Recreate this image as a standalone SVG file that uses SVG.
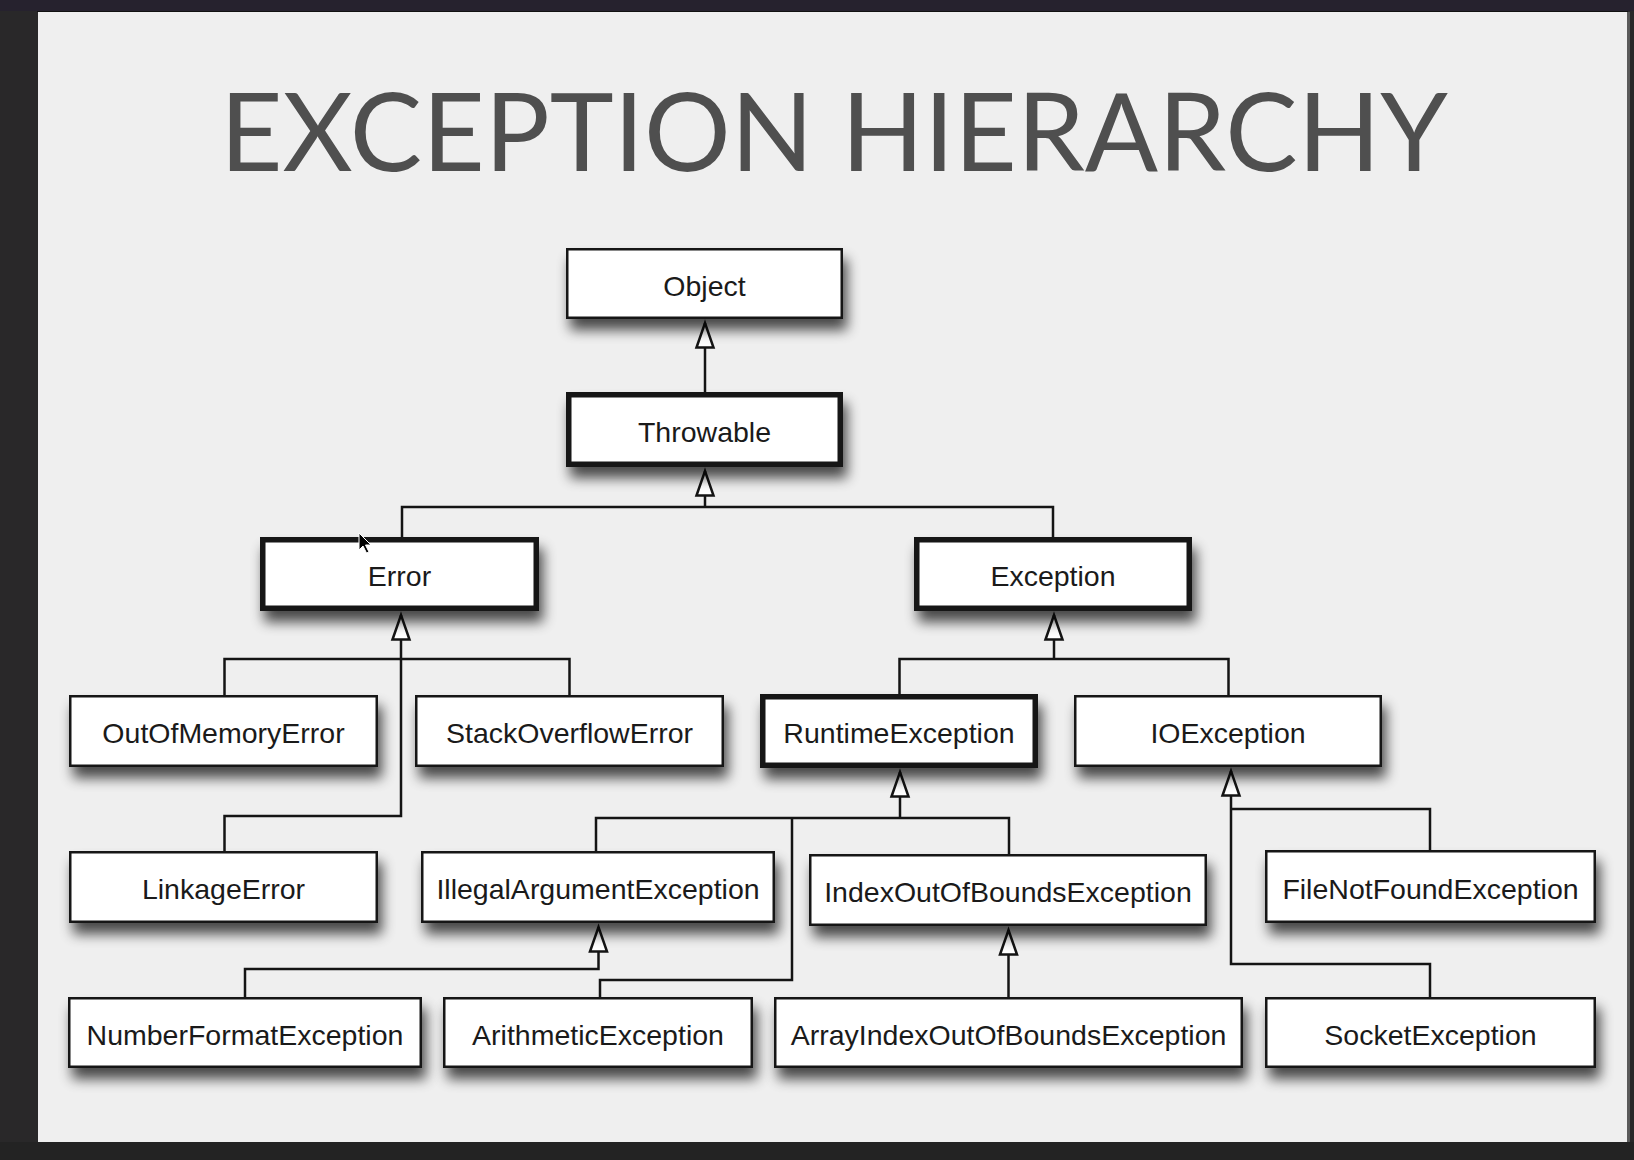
<svg xmlns="http://www.w3.org/2000/svg" width="1634" height="1160" viewBox="0 0 1634 1160">
  <style>
    .box { fill: #ffffff; stroke: #141414; filter: url(#shadow); }
    .thin { stroke-width: 2.5; }
    .thick { stroke-width: 5.5; }
    .lbl { font-family: "Liberation Sans", Arial, sans-serif; font-size: 28.5px; fill: #1a1a1a; text-anchor: middle; }
    .title { font-family: "Lato", "Open Sans", sans-serif; font-size: 108px; fill: #4f4f4f; }
    .conn { fill: none; stroke: #141414; stroke-width: 2.5; stroke-linejoin: miter; }
    .arrow { marker-end: url(#tri); }
  </style>
  <defs>
    <filter id="shadow" x="-15%" y="-30%" width="135%" height="190%">
      <feGaussianBlur in="SourceAlpha" stdDeviation="6.5"/>
      <feOffset dx="4" dy="11" result="b"/>
      <feComponentTransfer><feFuncA type="linear" slope="0.7"/></feComponentTransfer>
      <feMerge><feMergeNode/><feMergeNode in="SourceGraphic"/></feMerge>
    </filter>
    <marker id="tri" markerUnits="userSpaceOnUse" viewBox="0 -11 30 22" markerWidth="30" markerHeight="22" refX="26" refY="0" orient="auto">
      <path d="M1.5,-8.5 L26,0 L1.5,8.5 Z" fill="#ffffff" stroke="#141414" stroke-width="2.5" stroke-linejoin="miter"/>
    </marker>
  </defs>

  <!-- frame / background -->
  <rect x="0" y="0" width="1634" height="1160" fill="#292829"/>
  <rect x="0" y="0" width="1634" height="11" fill="#26222e"/>
  <rect x="0" y="1142" width="1634" height="18" fill="#232323"/>
  <rect x="37" y="11" width="1591" height="1" fill="#111111"/>
  <rect x="38" y="12" width="1589" height="1130" fill="#efefef"/>
  <rect x="1627" y="12" width="3" height="1130" fill="#5a5a5a"/>

  <text class="title" x="220" y="171" textLength="1228" lengthAdjust="spacingAndGlyphs">EXCEPTION HIERARCHY</text>

  <g id="connectors">
    <path class="conn arrow" d="M705,392 V323"/>
    <path class="conn" d="M402,537 V507 H1053 V537"/>
    <path class="conn arrow" d="M705,507 V471"/>
    <path class="conn" d="M224.5,695 V659 H569.5 V695"/>
    <path class="conn arrow" d="M224.5,851 V816 H401 V615"/>
    <path class="conn" d="M899.5,694 V659 H1228.5 V695"/>
    <path class="conn arrow" d="M1054,659 V615"/>
    <path class="conn" d="M596,851 V818 H1009 V854"/>
    <path class="conn" d="M600,997 V980 H792 V818"/>
    <path class="conn arrow" d="M900,818 V772"/>
    <path class="conn arrow" d="M245,997 V969 H598.5 V927"/>
    <path class="conn arrow" d="M1008.5,997 V930"/>
    <path class="conn arrow" d="M1430,997 V964 H1231 V771"/>
    <path class="conn" d="M1231,809 H1430 V850"/>
  </g>

  <g id="node-object"><rect class="box thin" x="567.25" y="249.25" width="274.5" height="68.5"/><text class="lbl" x="704.5" y="295.5">Object</text></g>
  <g id="node-throwable"><rect class="box thick" x="568.75" y="394.75" width="271.5" height="69.5"/><text class="lbl" x="704.5" y="441.5">Throwable</text></g>
  <g id="node-error"><rect class="box thick" x="262.75" y="539.75" width="273.5" height="68.5"/><text class="lbl" x="399.5" y="586">Error</text></g>
  <g id="node-exception"><rect class="box thick" x="916.75" y="539.75" width="272.5" height="68.5"/><text class="lbl" x="1053" y="586">Exception</text></g>
  <g id="node-outofmemoryerror"><rect class="box thin" x="70.25" y="696.25" width="306.5" height="69.5"/><text class="lbl" x="223.5" y="743">OutOfMemoryError</text></g>
  <g id="node-stackoverflowerror"><rect class="box thin" x="416.25" y="696.25" width="306.5" height="69.5"/><text class="lbl" x="569.5" y="743">StackOverflowError</text></g>
  <g id="node-runtimeexception"><rect class="box thick" x="762.75" y="696.75" width="272.5" height="68.5"/><text class="lbl" x="899" y="743">RuntimeException</text></g>
  <g id="node-ioexception"><rect class="box thin" x="1075.25" y="696.25" width="305.5" height="69.5"/><text class="lbl" x="1228" y="743">IOException</text></g>
  <g id="node-linkageerror"><rect class="box thin" x="70.25" y="852.25" width="306.5" height="69.5"/><text class="lbl" x="223.5" y="899">LinkageError</text></g>
  <g id="node-illegalargumentexception"><rect class="box thin" x="422.25" y="852.25" width="351.5" height="69.5"/><text class="lbl" x="598" y="899">IllegalArgumentException</text></g>
  <g id="node-indexoutofboundsexception"><rect class="box thin" x="810.25" y="855.25" width="395.5" height="69.5"/><text class="lbl" x="1008" y="902">IndexOutOfBoundsException</text></g>
  <g id="node-filenotfoundexception"><rect class="box thin" x="1266.25" y="851.25" width="328.5" height="70.5"/><text class="lbl" x="1430.5" y="898.5">FileNotFoundException</text></g>
  <g id="node-numberformatexception"><rect class="box thin" x="69.25" y="998.25" width="351.5" height="68.5"/><text class="lbl" x="245" y="1044.5">NumberFormatException</text></g>
  <g id="node-arithmeticexception"><rect class="box thin" x="444.25" y="998.25" width="307.5" height="68.5"/><text class="lbl" x="598" y="1044.5">ArithmeticException</text></g>
  <g id="node-arrayindexoutofboundsexception"><rect class="box thin" x="775.25" y="998.25" width="466.5" height="68.5"/><text class="lbl" x="1008.5" y="1044.5">ArrayIndexOutOfBoundsException</text></g>
  <g id="node-socketexception"><rect class="box thin" x="1266.25" y="998.25" width="328.5" height="68.5"/><text class="lbl" x="1430.5" y="1044.5">SocketException</text></g>

  <path d="M359,533 V550 L363,546 L366.5,553 L369,552 L365.5,545 L371,545 Z" fill="#000000" stroke="#ffffff" stroke-width="1"/>
</svg>
